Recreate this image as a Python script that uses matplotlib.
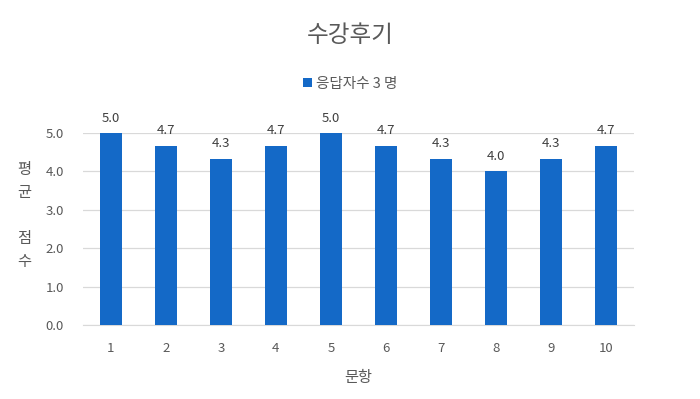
import matplotlib
matplotlib.use("Agg")
import matplotlib.pyplot as plt

plt.rcParams['font.family'] = ['Noto Sans CJK KR', 'DejaVu Sans']

# datos del gráfico
문항 = [1, 2, 3, 4, 5, 6, 7, 8, 9, 10]
평균 = [5.0, 4.67, 4.33, 4.67, 5.0, 4.67, 4.33, 4.0, 4.33, 4.67]
범례 = "응답자수 3 명"

txt = "#595959"
azul = "#1469C7"

fig = plt.figure(figsize=(7, 3.99), dpi=100)
ax = fig.add_axes([0.119, 0.185, 0.786, 0.482])

bars = ax.bar(문항, 평균, width=0.4, color=azul, label=범례, zorder=3)
for b, v in zip(bars, 평균):
    ax.annotate(f"{v:.1f}", (b.get_x() + b.get_width() / 2, v),
                xytext=(0, 6), textcoords="offset points",
                ha="center", va="bottom", fontsize=9.5, color="#404040")

ax.set_xlim(0.5, 10.5)
ax.set_ylim(0, 5)
ax.set_yticks([0, 1, 2, 3, 4, 5])
ax.set_yticklabels([f"{t:.1f}" for t in range(6)])
ax.set_xticks(문항)
ax.grid(axis="y", color="#D9D9D9", linewidth=0.9, zorder=0)
for s in ["top", "right", "left"]:
    ax.spines[s].set_visible(False)
ax.spines["bottom"].set_color("#D9D9D9")
ax.tick_params(length=0, colors=txt, labelsize=9.5, pad=12)
ax.tick_params(axis="y", pad=14)

ax.set_xlabel("문항", fontsize=11, color=txt, labelpad=10)
fig.text(0.034, 0.46, "평\n균\n\n점\n수", fontsize=11, color=txt,
         ha="center", va="center", linespacing=1.45)

fig.suptitle("수강후기", fontsize=17, color=txt, y=0.94)
leg = fig.legend(loc="center", bbox_to_anchor=(0.5, 0.79), frameon=False,
                 fontsize=10.5, handlelength=0.6, handleheight=0.6,
                 handletextpad=0.3, labelcolor=txt)

fig.savefig("out.png", dpi=100)
